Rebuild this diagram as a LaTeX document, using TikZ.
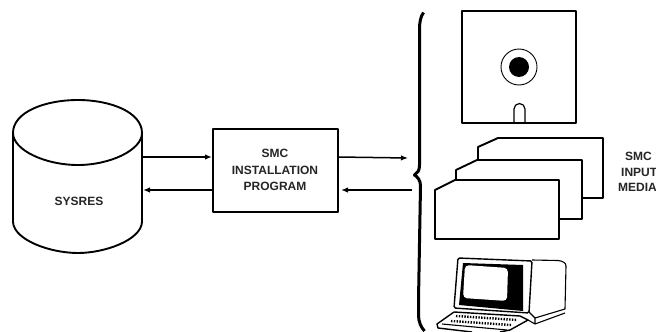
\documentclass[tikz,border=0pt]{standalone}
\usepackage{fontspec}
\setmainfont{Liberation Sans}
\usetikzlibrary{arrows.meta}
\tikzset{
  every picture/.style={x=1pt,y=-1pt},
  heavy/.style={draw=black,line width=1.9pt,line join=round},
  thinline/.style={draw=black,line width=1.1pt,line join=round},
  flow/.style={draw=black,line width=1.5pt,-{Latex[length=7pt,width=5.5pt]}},
  lbl/.style={font=\bfseries\fontsize{12}{16.5}\selectfont,align=center,text=black!85,inner sep=0pt},
}
\begin{document}
\begin{tikzpicture}
\useasboundingbox (0,0) rectangle (656,332);
\fill[white] (0,0) rectangle (656,332);
% cylinder
\draw[heavy] (13,133) .. controls (13,112) and (45,100) .. (78,100) .. controls (110,100) and (142,112) .. (142,133)
  .. controls (142,150) and (110,165) .. (78,165) .. controls (45,165) and (13,150) .. (13,133);
\draw[heavy] (13,133) -- (13,222) .. controls (14,240) and (50,253) .. (78,253) .. controls (105,253) and (141,240) .. (142,222) -- (142,133);
\node[lbl] (sysres) at (79,201) {SYSRES};
% program box
\node[heavy,minimum width=125pt,minimum height=83pt,inner sep=0pt] (prog) at (275.5,170.5) {};
\node[lbl] (proglbl) at (275,170) {SMC\\INSTALLATION\\PROGRAM};
\coordinate (s1) at (142,157); \coordinate (p1) at (212,157);
\coordinate (s2) at (143,190); \coordinate (p2) at (213,190);
\coordinate (p3) at (338,157); \coordinate (m1) at (408,158);
\coordinate (p4) at (341,190); \coordinate (m2) at (412,190);
\draw[flow] (s1) -- (p1);
\draw[flow] (p2) -- (s2);
\draw[flow] (p3) -- (m1);
\draw[flow] (m2) -- (p4);
% brace
\draw[draw=black,line width=3pt,line join=round] (423.5,12.5) .. controls (420.5,17) and (419.5,22) .. (419.5,30) -- (419.5,165) .. controls (419.5,171) and (417.5,173) .. (414.5,175) .. controls (417.5,177) and (420.5,180) .. (420.5,186) -- (418.5,300) -- (418.5,315) .. controls (418.5,322) and (421,327) .. (424.5,331);
% floppy
\draw[heavy] (462,11) rectangle (576,123);
\draw[draw=black,line width=.9pt] (519,67) circle (18);
\fill[black] (519,67) circle (10);
\draw[draw=black,line width=1.2pt] (514,122) -- (514,109) arc (-180:0:5.5) -- (525,122);
% cards
\draw[heavy] (478,160) -- (478,147) -- (498,138) -- (603,138) -- (603,198) -- (582,198);
\draw[heavy] (456,180) -- (456,170) -- (477,160) -- (582,160) -- (582,219) -- (559,219);
\draw[heavy] (435,190) -- (455,180) -- (559,180) -- (559,239) -- (435,239) -- cycle;
\node[lbl,anchor=west] (t1) at (625,156.5) {SMC};
\node[lbl,anchor=west] (t2) at (621,172) {INPUT};
\node[lbl,anchor=west] (t3) at (618,187) {MEDIA};
% terminal: monitor housing
\draw[thinline] (532,260) -- (558,260.5) .. controls (563,261) and (566,263) .. (566,266) -- (565,309) -- (535,318) -- (529,312);
% bezel
\draw[thinline,line width=1.4pt,rounded corners=1.5pt] (458,258) -- (532,261) -- (529,313) -- (454,308) -- cycle;
\fill[black] (463,263) -- (523,265) -- (523,311) -- (459,305) -- cycle;
\fill[white,rounded corners=4pt] (465,265) -- (508,268) -- (507,301) -- (463,298) -- cycle;
% stand
\draw[thinline] (535,318) -- (535,324) -- (565,313) (528,320) -- (535,324);
% keyboard
\draw[thinline,line width=1.4pt] (454,312) -- (437,324) -- (438,328) -- (472,332);
\draw[thinline,line width=1.4pt] (454,312) -- (520,316) -- (528,320) -- (510,330) -- (500,332);
\draw[thinline] (442,324) -- (507,330);
\draw[black,line width=2.4pt,dash pattern=on 1.4pt off 1.4pt] (456,316) -- (517,320);
\draw[black,line width=2.4pt,dash pattern=on 1.4pt off 1.4pt] (451,321) -- (511,325);
\end{tikzpicture}
\end{document}
